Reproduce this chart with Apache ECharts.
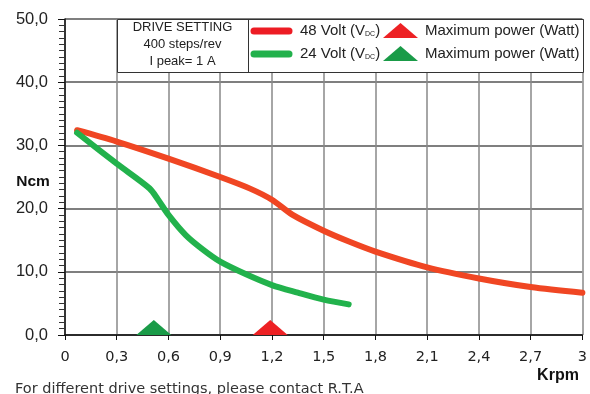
<!DOCTYPE html>
<html>
<head>
<meta charset="utf-8">
<script src="https://cdn.jsdelivr.net/npm/echarts@6/dist/echarts.min.js"></script>
<style>html,body{margin:0;padding:0;background:#fff}#c{width:590px;height:394px}</style>
</head>
<body>
<div id="c"></div>
<script>
// Data (x in Krpm, y in Ncm)
var red48 = [[0.07,32.4],[0.3,30.6],[0.6,27.9],[0.9,25.0],[1.07,23.2],[1.2,21.4],[1.32,19.0],[1.5,16.5],[1.65,14.75],[1.8,13.2],[2.1,10.7],[2.4,8.95],[2.7,7.6],[3.0,6.7]];
var green24 = [[0.07,32.0],[0.3,27.1],[0.49,23.2],[0.54,21.4],[0.6,19.0],[0.7,15.8],[0.8,13.5],[0.9,11.6],[1.05,9.6],[1.2,7.9],[1.35,6.7],[1.5,5.6],[1.645,4.85]];
var maxPower48 = [[1.19,0]];
var maxPower24 = [[0.515,0]];
var boxLines = ['DRIVE SETTING','400 steps/rev','I peak= 1 A'];
var legendNames = ['48 Volt (V','24 Volt (V'];
var maxPowerLabel = 'Maximum power (Watt)';
var yName = 'Ncm', xName = 'Krpm';
var footer = 'For different drive settings, please contact R.T.A';

var chart = echarts.init(document.getElementById('c'), null, {renderer:'canvas'});
function fmtX(v){ var s=(Math.round(v*10)/10).toFixed(1).replace('.',','); return s.replace(/,0$/,''); }
function fmtY(v){ return v.toFixed(1).replace('.',','); }
var boxX = 117, divX = 248, boxR = 583, boxT = 19, boxB = 72;
var rows = [31, 54];
var rowColors = ['#ed1c24','#22b14c'];
var triColors = ['#ed2124','#1a9b48'];
var graphics = [
  {type:'rect', shape:{x:boxX+0.5,y:boxT+0.5,width:boxR-boxX,height:boxB-boxT}, style:{fill:'#fff',stroke:'#333',lineWidth:1}, z:100},
  {type:'line', shape:{x1:divX+0.5,y1:boxT,x2:divX+0.5,y2:boxB}, style:{stroke:'#333',lineWidth:1}, z:101}
];
boxLines.forEach(function(t,i){
  graphics.push({type:'text', x:(boxX+divX)/2, y:[27,44,61][i], z:102,
    style:{text:t, fill:'#222', font:'13px "Liberation Sans", Arial, sans-serif', align:'center', verticalAlign:'middle'}});
});
rows.forEach(function(y,i){
  graphics.push({type:'line', shape:{x1:254,y1:y,x2:289,y2:y}, style:{stroke:rowColors[i],lineWidth:7,lineCap:'round'}, z:102});
  graphics.push({type:'text', x:300, y:y, z:102,
    style:{rich:{a:{fontSize:15,fontFamily:'"Liberation Sans", Arial, sans-serif',fill:'#222'},
                 s:{fontSize:7,fontFamily:'"Liberation Sans", Arial, sans-serif',fill:'#222',padding:[7,0,0,0]}},
           text:'{a|'+legendNames[i]+'}{s|DC}{a|)}', verticalAlign:'middle', align:'left'}});
  graphics.push({type:'polygon', shape:{points:[[383,y+7],[400.5,y-8],[418,y+7]]}, style:{fill:triColors[i]}, z:102});
  graphics.push({type:'text', x:425, y:y, z:102,
    style:{text:maxPowerLabel, fill:'#222', font:'15px "Liberation Sans", Arial, sans-serif', verticalAlign:'middle'}});
});
graphics.push({type:'text', x:33, y:182, z:102, style:{text:yName, fill:'#111', font:'bold 15.5px "Liberation Sans", Arial, sans-serif', align:'center', verticalAlign:'middle'}});
graphics.push({type:'text', x:558, y:376, z:102, style:{text:xName, fill:'#111', font:'bold 16px "Liberation Sans", Arial, sans-serif', align:'center', verticalAlign:'middle'}});
graphics.push({type:'text', x:15, y:389, z:102, style:{text:footer, fill:'#333', font:'14.5px "DejaVu Sans", Verdana, sans-serif', verticalAlign:'middle'}});

chart.setOption({
  animation:false,
  backgroundColor:'#fff',
  grid:{left:65,right:7,top:19,bottom:59,containLabel:false},
  xAxis:{type:'value',min:0,max:3,interval:0.3,
    axisLine:{show:true,onZero:false,lineStyle:{color:'#111',width:1.5}},
    axisTick:{show:true,length:5,lineStyle:{color:'#111'}},
    axisLabel:{formatter:fmtX,margin:15,color:'#222',fontSize:14.5,fontFamily:'"DejaVu Sans", Verdana, sans-serif'},
    splitLine:{show:true,lineStyle:{color:'#888',width:1.5}}},
  yAxis:{type:'value',min:0,max:50,interval:10,
    axisLine:{show:true,lineStyle:{color:'#111',width:1.5}},
    axisTick:{show:true,length:7,lineStyle:{color:'#111'}},
    minorTick:{show:true,splitNumber:10,length:6,lineStyle:{color:'#333'}},
    axisLabel:{formatter:fmtY,margin:17,color:'#222',fontSize:16.5,fontFamily:'"Liberation Sans", Arial, sans-serif'},
    splitLine:{show:true,lineStyle:{color:'#555',width:1.5}}},
  series:[
    {type:'line',data:red48,smooth:0.3,showSymbol:false,symbol:'none',lineStyle:{color:'#f04623',width:6,cap:'round'},z:3},
    {type:'line',data:green24,smooth:0.3,showSymbol:false,symbol:'none',lineStyle:{color:'#22b24c',width:6,cap:'round'},z:3},
    {type:'scatter',data:maxPower48,symbol:'triangle',symbolSize:[35,15],symbolOffset:[0,-7.5],itemStyle:{color:'#ed2124',opacity:1},z:4},
    {type:'scatter',data:maxPower24,symbol:'triangle',symbolSize:[35,15],symbolOffset:[0,-7.5],itemStyle:{color:'#1a9b48',opacity:1},z:4}
  ],
  graphic:graphics
});
</script>
</body>
</html>
